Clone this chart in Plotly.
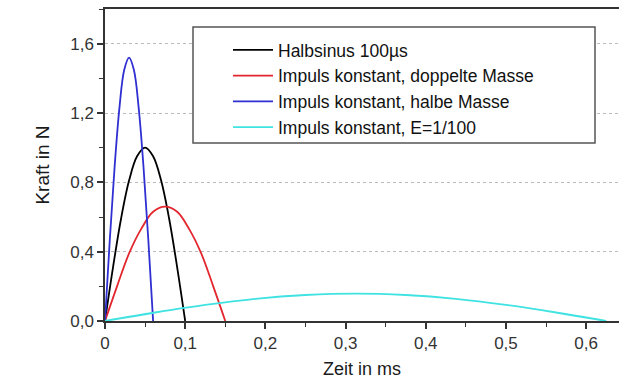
import plotly.graph_objects as go

# Data
names = ["Halbsinus 100µs", "Impuls konstant, doppelte Masse",
         "Impuls konstant, halbe Masse", "Impuls konstant, E=1/100"]
colors = ["#000000", "#e3262e", "#2f2fd2", "#40e2e2"]

x_black = [0, 0.01, 0.02, 0.03, 0.04, 0.05, 0.06, 0.07, 0.08, 0.09, 0.10]
y_black = [0, 0.31, 0.59, 0.81, 0.95, 1.00, 0.95, 0.81, 0.59, 0.31, 0]

x_red = [0, 0.015, 0.03, 0.045, 0.06, 0.075, 0.09, 0.105, 0.12, 0.135, 0.15]
y_red = [0, 0.20, 0.39, 0.53, 0.63, 0.66, 0.63, 0.53, 0.39, 0.20, 0]

x_blue = [0, 0.006, 0.012, 0.018, 0.024, 0.03, 0.036, 0.042, 0.048, 0.054, 0.06]
y_blue = [0, 0.47, 0.89, 1.23, 1.45, 1.52, 1.45, 1.23, 0.89, 0.47, 0]

x_cyan = [0, 0.0625, 0.125, 0.1875, 0.25, 0.3125, 0.375, 0.4375, 0.5, 0.5625, 0.625]
y_cyan = [0, 0.049, 0.093, 0.128, 0.150, 0.158, 0.150, 0.128, 0.093, 0.049, 0]

xs = [x_black, x_red, x_blue, x_cyan]
ys = [y_black, y_red, y_blue, y_cyan]

fig = go.Figure()
for i in range(4):
    fig.add_trace(go.Scatter(x=xs[i], y=ys[i], mode="lines", name=names[i],
                             legendgroup=str(i),
                             line=dict(color=colors[i], width=1.8, shape="spline", smoothing=1.0)))

W, H = 619, 383
ml, mr, mt, mb = 105, 0, 9, 62
pw, ph = W - ml - mr, H - mt - mb

def px2paper(px, py):
    return (px - ml) / pw, (H - mb - py) / ph

x0, y1 = px2paper(193, 27)
x1, y0 = px2paper(595, 143)
fig.add_shape(type="rect", xref="paper", yref="paper", x0=x0, x1=x1, y0=y0, y1=y1,
              line=dict(color="#555555", width=1.5), fillcolor="white", layer="above")

lx, ly = px2paper(228, 32)
fig.update_layout(
    width=W, height=H,
    margin=dict(l=ml, r=mr, t=mt, b=mb),
    paper_bgcolor="white", plot_bgcolor="white",
    separators=",.",
    font=dict(family="Liberation Sans, Arial, sans-serif", size=17, color="#222222"),
    showlegend=True,
    legend=dict(x=lx, y=ly, xanchor="left", yanchor="top", bgcolor="rgba(0,0,0,0)",
                borderwidth=0, font=dict(size=17.5, color="#111111"),
                tracegroupgap=0, itemwidth=40),
    xaxis=dict(range=[0, 0.641], dtick=0.1, tick0=0,
               showgrid=False, zeroline=False, showline=True, linecolor="#333333", linewidth=1.5,
               mirror=True, ticks="outside", ticklen=6, tickwidth=1.5, tickcolor="#333333",
               minor=dict(dtick=0.05, tick0=0, ticks="outside", ticklen=4, tickwidth=1.3, tickcolor="#333333"),
               title=dict(text="Zeit in ms", font=dict(size=18, color="#1a1a1a"), standoff=10),
               tickfont=dict(size=17, color="#333333")),
    yaxis=dict(range=[0, 1.8], dtick=0.4, tick0=0, tickformat=".1f",
               showgrid=True, gridcolor="#bbbbbb", griddash="dot", gridwidth=1,
               zeroline=False, showline=True, linecolor="#333333", linewidth=1.5,
               ticks="outside", ticklen=6, tickwidth=1.5, tickcolor="#333333",
               minor=dict(dtick=0.2, tick0=0, ticks="outside", ticklen=4, tickwidth=1.3, tickcolor="#333333", showgrid=False),
               title=dict(text="Kraft in N", font=dict(size=19, color="#1a1a1a"), standoff=16),
               tickfont=dict(size=17, color="#333333")),
)

fig.write_html("out.html")
